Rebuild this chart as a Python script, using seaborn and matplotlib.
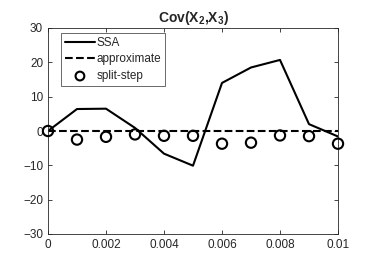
import numpy as np
import pandas as pd
import matplotlib
matplotlib.use("Agg")
import matplotlib.pyplot as plt
import seaborn as sns

# données
t = [0, 0.001, 0.002, 0.003, 0.004, 0.005, 0.006, 0.007, 0.008, 0.009, 0.01]
ssa = [0, 6.4, 6.5, 0.9, -6.6, -10.1, 14.0, 18.5, 20.7, 2.0, -1.6]
approx = [0] * len(t)
split_step = [0, -2.5, -1.7, -1.0, -1.4, -1.4, -3.7, -3.4, -1.3, -1.5, -3.7]
xticks = [0, 0.002, 0.004, 0.006, 0.008, 0.01]
xticklabels = ["0", "0.002", "0.004", "0.006", "0.008", "0.01"]
yticks = [-30, -20, -10, 0, 10, 20, 30]

df = pd.DataFrame({"t": t, "SSA": ssa, "approximate": approx, "split-step": split_step})

sns.set_style("white")
plt.rcParams["font.family"] = ["Liberation Sans", "DejaVu Sans"]
plt.rcParams["mathtext.fontset"] = "custom"
plt.rcParams["mathtext.rm"] = "Liberation Sans"
plt.rcParams["mathtext.bf"] = "Liberation Sans:bold"

fig = plt.figure(figsize=(3.74, 2.64), dpi=100)
ax = fig.add_axes([48 / 374, 1 - 234 / 264, 290 / 374, 206 / 264])

sns.lineplot(data=df, x="t", y="SSA", ax=ax, color="black", linewidth=1.5, label="SSA")
sns.lineplot(data=df, x="t", y="approximate", ax=ax, color="black", linewidth=1.5,
             linestyle="--", label="approximate")
sns.scatterplot(data=df, x="t", y="split-step", ax=ax, marker="o", s=55,
                facecolor="none", edgecolor="black", linewidth=1.5, label="split-step",
                clip_on=False, zorder=5)

ax.set_xlim(0, 0.01)
ax.set_ylim(-30, 30)
ax.set_xticks(xticks)
ax.set_xticklabels(xticklabels)
ax.set_yticks(yticks)
ax.set_xlabel("")
ax.set_ylabel("")
ax.set_title(r"Cov(X$_\mathbf{2}$,X$_\mathbf{3}$)", fontsize=10, fontweight="bold", pad=4)

grey = "#262626"
for s in ax.spines.values():
    s.set_color(grey)
    s.set_linewidth(0.6)
    s.set_visible(True)
ax.tick_params(direction="in", length=3, width=0.6, color=grey, labelcolor=grey,
               labelsize=8.5, top=True, right=True, bottom=True, left=True,
               labeltop=False, labelright=False)

leg = ax.legend(loc="upper left", bbox_to_anchor=(0.045, 0.975), fontsize=8.5,
                frameon=True, fancybox=False, handlelength=2.6, handletextpad=0.1,
                borderpad=0.3, labelspacing=0.4, borderaxespad=0, markerscale=0.85)
leg.get_frame().set_edgecolor(grey)
leg.get_frame().set_linewidth(0.6)

fig.savefig("out.png", dpi=100)
